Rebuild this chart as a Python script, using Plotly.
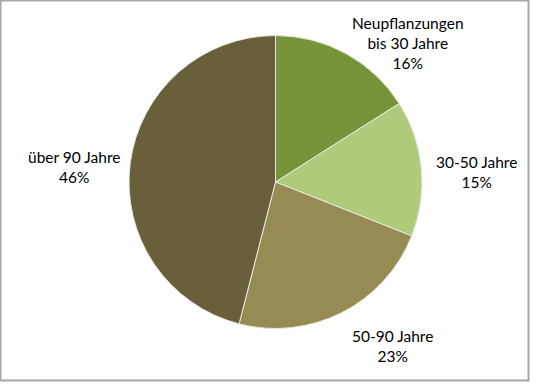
import plotly.graph_objects as go

categories = ["Neupflanzungen<br>bis 30 Jahre", "30-50 Jahre", "50-90 Jahre", "über 90 Jahre"]
values = [16, 15, 23, 46]
colors = ["#77943b", "#b0ca7b", "#958b53", "#695f3b"]
# label anchor positions in pixels (x, y from top)
label_pos = [(408, 43), (476, 172), (392, 346), (74, 167)]

W, H = 536, 384
cx, cy, r = 275.5, 182, 146.5

fig = go.Figure(go.Pie(
    labels=categories,
    values=values,
    sort=False,
    direction="clockwise",
    rotation=0,
    textinfo="none",
    hoverinfo="label+percent",
    marker=dict(colors=colors, line=dict(color="#e8e8e0", width=1)),
    domain=dict(x=[(cx - r) / W, (cx + r) / W], y=[(H - cy - r) / H, (H - cy + r) / H]),
    showlegend=False,
    automargin=False,
))

total = sum(values)
for lab, v, (px, py) in zip(categories, values, label_pos):
    fig.add_annotation(
        x=px / W, y=1 - py / H, xref="paper", yref="paper",
        text=f"{lab}<br>{round(v / total * 100)}%",
        showarrow=False, xanchor="center", yanchor="middle",
        font=dict(family="Lato, Open Sans, sans-serif", size=15.5, color="#000000"),
    )

fig.add_shape(type="rect", xref="paper", yref="paper",
              x0=0.5 / W, x1=528.5 / W, y0=1 - 380.5 / H, y1=1 - 0.5 / H,
              line=dict(color="#a6a6a6", width=2))

fig.update_layout(
    width=W, height=H,
    margin=dict(l=0, r=0, t=0, b=0),
    paper_bgcolor="white", plot_bgcolor="white",
)

fig.write_html("out.html", config={"displayModeBar": False},
               post_script="document.body.style.margin='0';document.body.style.overflow='hidden';")
